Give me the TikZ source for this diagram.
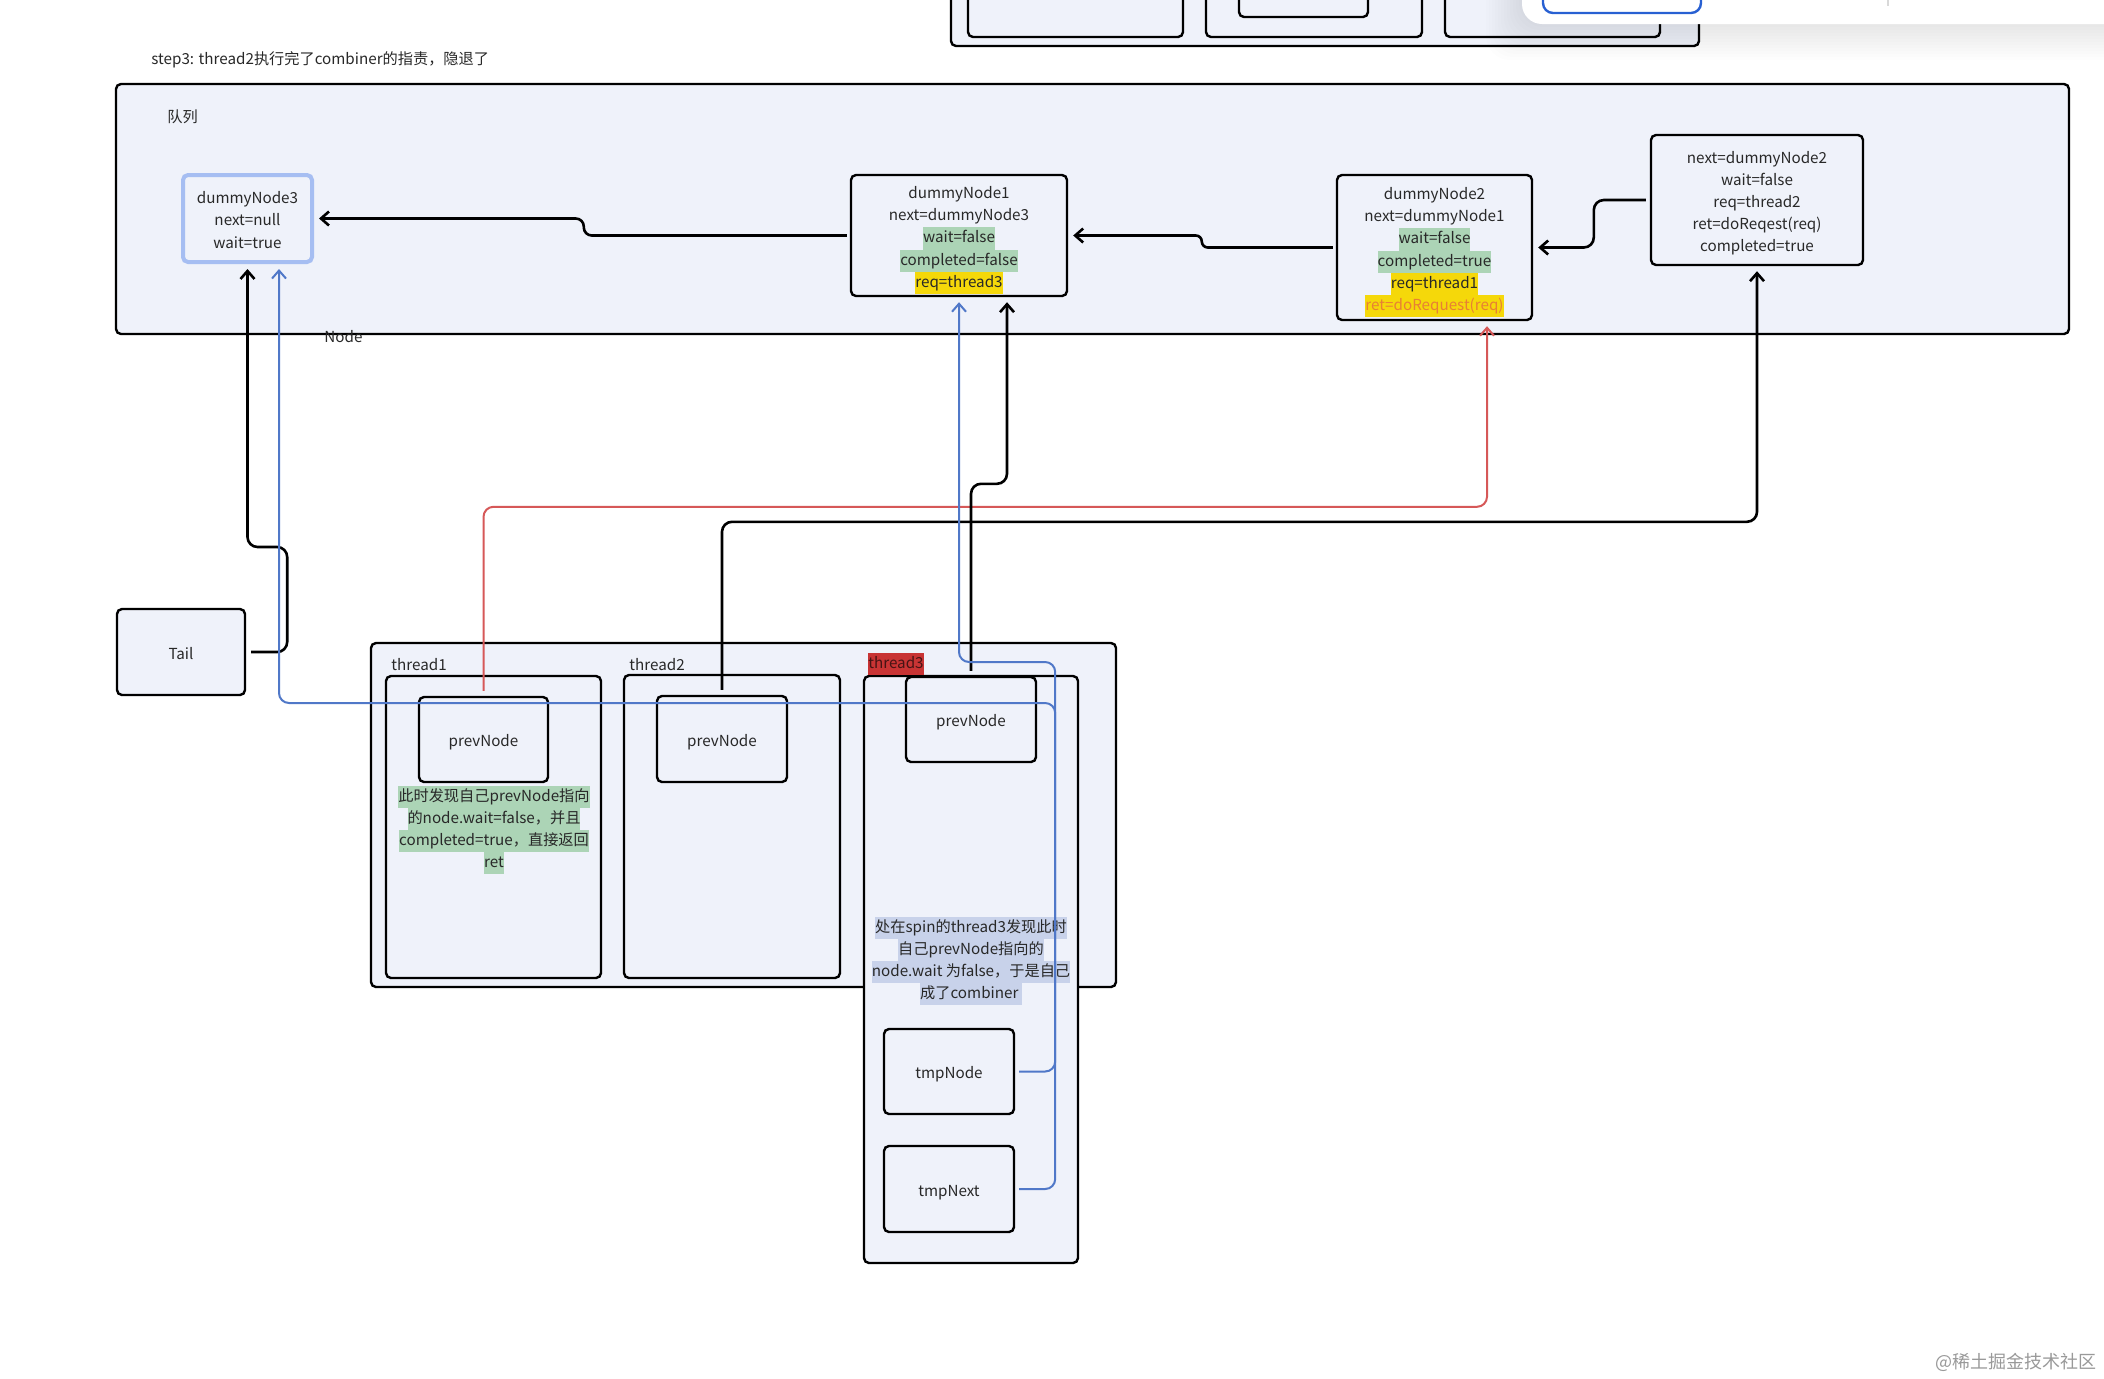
\documentclass[tikz,border=0pt]{standalone}
\usepackage{fontspec}
\setmainfont{Noto Sans CJK SC}
\usetikzlibrary{arrows.meta}
\definecolor{bgc}{RGB}{239,242,250}
\definecolor{txt}{RGB}{40,40,40}
\definecolor{hlg}{RGB}{172,212,182}
\definecolor{hly}{RGB}{245,216,10}
\definecolor{org}{RGB}{232,128,52}
\definecolor{hlb}{RGB}{200,210,234}
\definecolor{cred}{RGB}{214,88,88}
\definecolor{cblue}{RGB}{80,120,200}
\definecolor{btnblue}{RGB}{40,96,210}
\definecolor{t3red}{RGB}{200,52,52}
\definecolor{t3txt}{RGB}{70,20,20}
\definecolor{selb}{RGB}{166,190,242}
\newcommand\hlbox[2]{{\setlength{\fboxsep}{0pt}\colorbox{#1}{\strut#2}}}
\newcommand\fstrut{\rule{0pt}{10.8pt}\strut}
\begin{document}
\begin{tikzpicture}[x=0.5pt,y=-0.5pt,
  every node/.style={text=txt, font=\fontsize{7.6pt}{11.1pt}\selectfont},
  box/.style={draw=black, line width=1.2pt, rounded corners=2.5pt, fill=bgc},
  nbox/.style={box, align=center, inner sep=0pt},
  lab/.style={anchor=west, inner sep=0pt},
  conn/.style={draw=black, line width=1.3pt, rounded corners=5pt, shorten >=2.5pt,
    -{Straight Barb[length=4pt,width=7pt]}},
  bconn/.style={conn, draw=cblue, line width=1pt},
  rconn/.style={conn, draw=cred, line width=1pt}]
\useasboundingbox (0,0) rectangle (2104,1378);
\clip (0,0) rectangle (2104,1378);
\fill[white] (0,0) rectangle (2104,1378);

% cut-off elements at the top
\draw[box] (951,-20) rectangle (1699,46);
\draw[box] (968,-20) rectangle (1183,37);
\draw[box] (1206,-20) rectangle (1422,37);
\draw[box] (1239,-20) rectangle (1368,17);
\draw[box] (1445,-20) rectangle (1660,37);
\foreach \d in {3,6,...,36} {
  \fill[black, opacity=0.006, rounded corners=12pt] (1522-\d,-40) rectangle (2150,24+\d);
}
\fill[white, rounded corners=10pt] (1522,-40) rectangle (2150,24);
\draw[btnblue, line width=1.2pt, rounded corners=5pt] (1543,-20) rectangle (1701,13);
\draw[black!15, line width=0.6pt] (1888,0) -- (1888,6);

% title
\node[lab] (title) at (151,60) {step3: thread2执行完了combiner的指责，隐退了};

% queue
\node[box, minimum width=976.5pt, minimum height=125pt, inner sep=0pt] (queue) at (1092.5,209) {};
\node[lab] (qlab) at (167,117) {队列};
\node[lab] (nodelab) at (324,337) {Node};

\node[nbox, draw=selb, line width=2pt, minimum width=64.5pt, minimum height=43.5pt] (dN3) at (247.5,218.5)
  {\fstrut dummyNode3\\\strut next=null\\\strut wait=true};
\node[nbox, minimum width=108pt, minimum height=60.5pt] (dN1) at (959,235.5)
  {\fstrut dummyNode1\\\strut next=dummyNode3\\\hlbox{hlg}{wait=false}\\\hlbox{hlg}{completed=false}\\\hlbox{hly}{req=thread3}};
\node[nbox, minimum width=97.5pt, minimum height=72.5pt] (dN2) at (1434.5,247.5)
  {\fstrut dummyNode2\\\strut next=dummyNode1\\\hlbox{hlg}{wait=false}\\\hlbox{hlg}{completed=true}\\\hlbox{hly}{req=thread1}\\\hlbox{hly}{\textcolor{org}{ret=doRequest(req)}}};
\node[nbox, minimum width=106pt, minimum height=65pt] (n4) at (1757,200)
  {\fstrut next=dummyNode2\\\strut wait=false\\\strut req=thread2\\\strut ret=doReqest(req)\\\strut completed=true};

% tail
\node[nbox, minimum width=64pt, minimum height=43pt] (tail) at (181,652) {\fstrut Tail};

% threads
\node[box, minimum width=372.5pt, minimum height=172pt, inner sep=0pt] (threads) at (743.5,815) {};
\node[box, minimum width=107.5pt, minimum height=151pt, inner sep=0pt] (t1) at (493.5,827) {};
\node[box, minimum width=108pt, minimum height=151.5pt, inner sep=0pt] (t2) at (732,826.5) {};
\node[box, minimum width=107pt, minimum height=293.5pt, inner sep=0pt] (t3) at (971,969.5) {};
\node[lab] (t1lab) at (391,665) {thread1};
\node[lab] (t2lab) at (629,665) {thread2};
\node[fill=t3red, text=t3txt, inner sep=0pt] (t3lab) at (896,664) {\strut thread3};

\node[nbox, minimum width=64.5pt, minimum height=42.5pt] (pN1) at (483.5,739.5) {\fstrut prevNode};
\node[nbox, minimum width=65pt, minimum height=43pt] (pN2) at (722,739) {\fstrut prevNode};
\node[nbox, minimum width=65pt, minimum height=42.5pt] (pN3) at (971,719.5) {\fstrut prevNode};

\node[align=center, inner sep=0pt] (note1) at (494,830)
  {\hlbox{hlg}{此时发现自己prevNode指向}\\\hlbox{hlg}{的node.wait=false，并且}\\\hlbox{hlg}{completed=true，直接返回}\\\hlbox{hlg}{ret}};
\node[align=center, inner sep=0pt] (note3) at (971,961)
  {\hlbox{hlb}{处在spin的thread3发现此时}\\\hlbox{hlb}{自己prevNode指向的}\\\hlbox{hlb}{node.wait 为false，于是自己}\\\hlbox{hlb}{成了combiner }};

\node[nbox, minimum width=65pt, minimum height=42.5pt] (tmpN) at (949,1071.5) {\fstrut tmpNode};
\node[nbox, minimum width=65pt, minimum height=43pt] (tmpX) at (949,1189) {\fstrut tmpNext};

% connectors inside queue
\draw[conn, rounded corners=4pt, shorten <=1.5pt] (dN1.west) -- ++(-266,0) |- (dN3.east);
\draw[conn, rounded corners=3pt, shorten <=1.5pt] (dN2.west) -- ++(-134,0) |- (dN1.east);
\draw[conn, shorten <=2pt] (n4.west) -- ++(-56,0) |- (dN2.east);

% connectors from below
\draw[conn, shorten <=2.5pt] (tail.east) -- ++(41,0) -- ++(0,-105) -| (dN3.south);
\draw[rconn, shorten <=2.5pt] (pN1.north) -- ++(0,-189) -| ([xshift=26.25pt]dN2.south);
\draw[conn, shorten <=2.5pt] (pN2.north) -- ++(0,-173) -| (n4.south);
\draw[conn, shorten <=2.5pt] (pN3.north) -- ++(0,-192) -| ([xshift=24pt]dN1.south);
\draw[bconn, shorten <=2pt] (tmpN.east) -| ++(40,-409.5) -| (dN1.south);
\draw[bconn, shorten <=2pt] (tmpX.east) -| ++(40,-486) -| ([xshift=15.75pt]dN3.south);

% watermark
\node[text=black!40, font=\fontsize{9pt}{11pt}\selectfont, anchor=east, inner sep=0pt] (wm) at (2097,1362) {@稀土掘金技术社区};
\end{tikzpicture}
\end{document}
